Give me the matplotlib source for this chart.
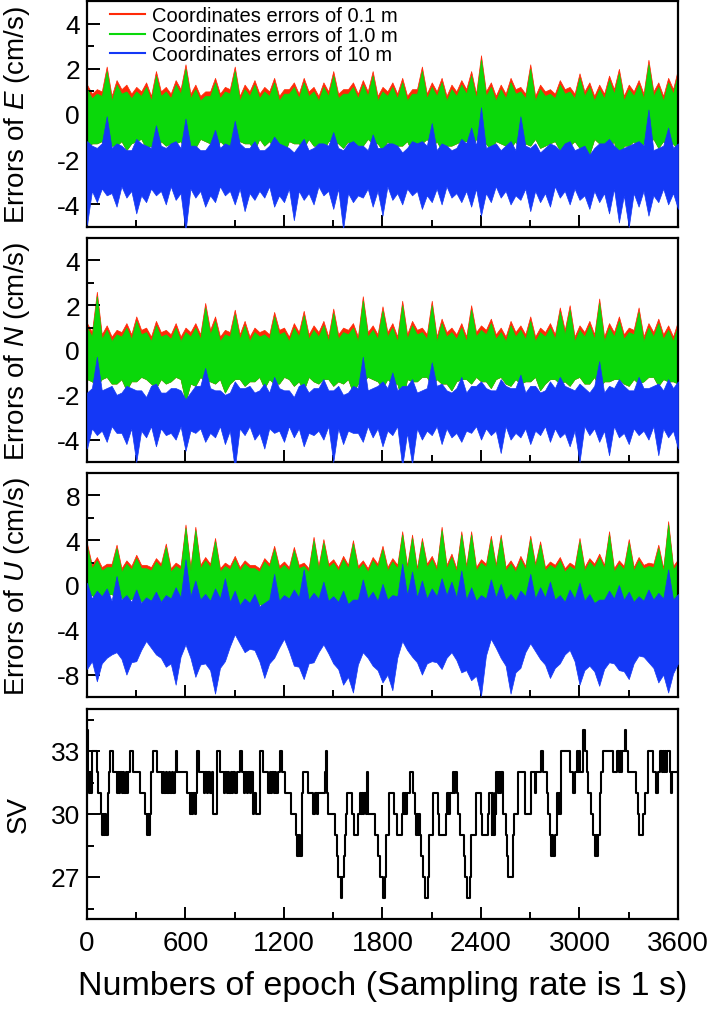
import numpy as np
import matplotlib
matplotlib.use('Agg')
import matplotlib.pyplot as plt
from matplotlib.ticker import MultipleLocator
from matplotlib.lines import Line2D

plt.rcParams['font.family'] = ['Liberation Sans', 'DejaVu Sans']
plt.rcParams['mathtext.fontset'] = 'custom'
plt.rcParams['mathtext.rm'] = 'Liberation Sans'
plt.rcParams['mathtext.it'] = 'Liberation Sans:italic'
plt.rcParams['axes.unicode_minus'] = False

# envelope readings of the noisy series, one value every 30 epochs
epochs = np.arange(0, 3601, 30)

# E component (cm/s)
e_red_up = [1.3, 0.9, 1.1, 1.0, 2.1, 0.8, 1.5, 1.1, 1.3, 0.9, 1.2, 1.0, 1.4, 0.8, 1.9, 1.0, 1.2, 0.9, 1.5, 1.1,
            2.2, 0.9, 1.3, 0.8, 1.0, 1.0, 1.6, 0.9, 1.2, 1.1, 2.1, 0.8, 1.3, 1.0, 1.5, 0.9, 1.2, 1.0, 1.6, 0.8,
            1.1, 1.1, 1.4, 0.9, 1.6, 1.0, 1.2, 0.8, 1.4, 1.0, 1.9, 0.9, 1.1, 1.1, 1.4, 0.9, 1.5, 1.0, 1.9, 0.8,
            1.2, 1.0, 1.4, 0.9, 1.6, 0.8, 1.1, 1.1, 2.1, 0.9, 1.4, 1.0, 1.6, 0.8, 1.3, 1.0, 1.5, 1.1, 1.9, 0.9,
            2.6, 1.0, 1.4, 0.8, 1.3, 0.9, 1.6, 1.1, 1.2, 0.9, 2.2, 0.8, 1.3, 1.0, 1.1, 0.9, 1.5, 1.1, 1.2, 0.9,
            1.8, 1.0, 1.4, 0.8, 1.3, 0.9, 1.7, 1.1, 2.0, 0.8, 1.3, 1.0, 1.5, 0.9, 2.4, 1.0, 1.4, 0.8, 1.6, 1.1,
            2.0]
e_green_up = [1.1, 0.7, 0.9, 0.8, 1.9, 0.6, 1.3, 0.9, 1.0, 0.7, 1.0, 0.8, 1.2, 0.6, 1.7, 0.8, 1.0, 0.7, 1.3, 0.9,
              2.0, 0.7, 1.1, 0.6, 0.8, 0.8, 1.4, 0.7, 1.0, 0.9, 1.9, 0.6, 1.1, 0.8, 1.3, 0.7, 1.0, 0.8, 1.4, 0.6,
              0.9, 0.9, 1.2, 0.7, 1.4, 0.8, 1.0, 0.6, 1.2, 0.8, 1.7, 0.7, 0.9, 0.9, 1.2, 0.7, 1.3, 0.8, 1.7, 0.6,
              1.0, 0.8, 1.2, 0.7, 1.4, 0.6, 0.9, 0.9, 1.9, 0.7, 1.2, 0.8, 1.4, 0.6, 1.1, 0.8, 1.3, 0.9, 1.7, 0.7,
              2.4, 0.8, 1.2, 0.6, 1.1, 0.7, 1.4, 0.9, 1.0, 0.7, 2.0, 0.6, 1.1, 0.8, 0.9, 0.7, 1.3, 0.9, 1.0, 0.7,
              1.6, 0.8, 1.2, 0.6, 1.1, 0.7, 1.5, 0.9, 1.8, 0.6, 1.1, 0.8, 1.3, 0.7, 2.2, 0.8, 1.2, 0.6, 1.4, 0.9,
              1.8]
e_green_lo = [-1.5, -1.3, -1.3, -1.2, -1.7, -1.4, -1.4, -1.2, -1.6, -1.3, -1.2, -1.1, -1.5, -1.4, -1.8, -1.2, -1.4, -1.3, -1.3, -1.2,
              -1.6, -1.4, -1.5, -1.1, -1.2, -1.3, -1.7, -1.2, -1.4, -1.4, -1.5, -1.2, -1.3, -1.3, -1.6, -1.1, -1.4, -1.2, -1.5, -1.4,
              -1.8, -1.2, -1.3, -1.3, -1.5, -1.1, -1.4, -1.4, -1.6, -1.2, -1.2, -1.3, -1.5, -1.2, -1.7, -1.4, -1.4, -1.1, -1.3, -1.3,
              -1.6, -1.2, -1.5, -1.4, -1.4, -1.2, -1.7, -1.3, -1.3, -1.1, -1.5, -1.2, -1.6, -1.4, -1.4, -1.3, -1.2, -1.2, -1.5, -1.1,
              -1.4, -1.3, -1.6, -1.2, -1.3, -1.4, -1.5, -1.2, -1.7, -1.3, -1.4, -1.1, -1.5, -1.4, -1.3, -1.2, -1.6, -1.3, -1.4, -1.2,
              -1.5, -1.4, -1.8, -1.1, -1.3, -1.3, -1.5, -1.2, -2.3, -1.4, -1.4, -1.2, -1.6, -1.3, -1.3, -1.1, -1.5, -1.2, -1.4, -1.3,
              -1.6]
e_blue_up = [-1.2, -1.4, -1.5, -1.3, -0.1, -1.5, -1.3, -1.4, -1.6, -1.6, -1.1, -1.3, -1.4, -1.5, -0.5, -1.4, -1.5, -1.3, -1.2, -1.5,
             -0.2, -1.4, -1.4, -1.6, -1.6, -1.3, -0.7, -1.5, -1.3, -1.4, -0.3, -1.3, -1.5, -1.5, -1.2, -1.6, -1.6, -1.4, -1.0, -1.3,
             -1.4, -1.5, -1.7, -1.4, -1.1, -1.6, -1.5, -1.3, -1.3, -1.4, -0.8, -1.5, -1.6, -1.3, -1.2, -1.4, -1.4, -1.6, -0.9, -1.5,
             -1.5, -1.3, -1.3, -1.4, -1.7, -1.5, -1.2, -1.3, -1.2, -1.4, -0.4, -1.6, -1.3, -1.4, -1.6, -1.5, -1.1, -1.3, -0.6, -1.4,
             0.3, -1.5, -1.4, -1.3, -1.6, -1.4, -1.2, -1.6, -0.1, -1.4, -1.5, -1.3, -1.7, -1.5, -1.3, -1.4, -1.6, -1.3, -1.2, -1.6,
             -1.5, -1.4, -1.8, -1.5, -1.3, -1.3, -1.1, -1.4, -1.6, -1.5, -1.4, -1.3, -1.2, -1.4, 0.2, -1.6, -1.5, -1.4, -0.6, -1.5,
             -1.3]
e_blue_lo = [-4.9, -3.4, -3.9, -3.3, -3.6, -3.5, -4.1, -3.2, -3.7, -3.4, -4.4, -3.6, -3.9, -3.3, -3.6, -3.4, -4.0, -3.2, -3.8, -3.5,
             -5.2, -3.3, -3.7, -3.4, -4.1, -3.6, -3.9, -3.2, -3.6, -3.4, -4.0, -3.3, -4.3, -3.5, -3.8, -3.4, -3.7, -3.2, -4.1, -3.6,
             -3.9, -3.3, -4.7, -3.4, -3.8, -3.5, -4.0, -3.2, -3.6, -3.4, -4.2, -3.3, -5.1, -3.5, -3.9, -3.6, -3.7, -3.3, -4.1, -3.4,
             -4.5, -3.2, -3.8, -3.5, -4.0, -3.3, -3.6, -3.4, -4.2, -3.6, -3.9, -3.3, -4.0, -3.2, -3.7, -3.5, -3.9, -3.4, -4.1, -3.3,
             -4.5, -3.5, -3.9, -3.2, -3.7, -3.4, -4.0, -3.6, -3.8, -3.3, -4.3, -3.4, -3.9, -3.5, -4.1, -3.2, -3.7, -3.4, -4.0, -3.3,
             -3.8, -3.6, -4.2, -3.4, -3.9, -3.5, -4.4, -3.3, -4.8, -3.6, -5.0, -3.5, -4.1, -3.4, -4.5, -3.6, -3.9, -3.3, -4.0, -3.5,
             -4.2]

# N component (cm/s)
n_red_up = [1.2, 0.8, 2.6, 0.7, 1.1, 0.6, 0.9, 0.8, 1.2, 0.7, 1.5, 0.9, 1.0, 0.6, 1.3, 0.8, 0.9, 0.7, 1.2, 0.6,
            1.0, 0.8, 1.2, 0.7, 2.1, 0.9, 1.5, 0.6, 0.9, 0.8, 1.8, 0.7, 1.3, 0.6, 1.0, 0.8, 0.9, 0.7, 1.7, 0.9,
            1.0, 0.6, 1.2, 0.8, 1.75, 0.7, 1.1, 0.8, 1.3, 0.6, 1.85, 0.7, 1.0, 0.9, 1.2, 0.6, 2.4, 0.8, 1.1, 0.7,
            1.95, 0.8, 1.2, 0.6, 2.2, 0.7, 1.3, 0.9, 1.0, 0.7, 2.2, 0.6, 1.4, 0.8, 1.0, 0.7, 1.2, 0.6, 2.0, 0.8,
            1.1, 0.9, 1.4, 0.7, 1.0, 0.6, 1.3, 0.8, 1.1, 0.7, 1.5, 0.6, 1.0, 0.8, 1.2, 0.7, 1.9, 0.9, 2.0, 0.6,
            1.1, 0.8, 1.3, 0.7, 2.3, 0.6, 1.2, 0.8, 1.5, 0.7, 1.0, 0.9, 1.9, 0.6, 1.2, 0.8, 1.4, 0.7, 1.1, 0.6,
            1.3]
n_green_up = [1.0, 0.6, 2.4, 0.5, 0.9, 0.4, 0.7, 0.6, 1.0, 0.5, 1.3, 0.7, 0.8, 0.4, 1.1, 0.6, 0.7, 0.5, 1.0, 0.4,
              0.8, 0.6, 1.0, 0.5, 1.9, 0.7, 1.3, 0.4, 0.7, 0.6, 1.6, 0.5, 1.1, 0.4, 0.8, 0.6, 0.7, 0.5, 1.5, 0.7,
              0.8, 0.4, 1.0, 0.6, 1.55, 0.5, 0.9, 0.6, 1.1, 0.4, 1.65, 0.5, 0.8, 0.7, 1.0, 0.4, 2.2, 0.6, 0.9, 0.5,
              1.75, 0.6, 1.0, 0.4, 2.0, 0.5, 1.1, 0.7, 0.8, 0.5, 2.0, 0.4, 1.2, 0.6, 0.8, 0.5, 1.0, 0.4, 1.8, 0.6,
              0.9, 0.7, 1.2, 0.5, 0.8, 0.4, 1.1, 0.6, 0.9, 0.5, 1.3, 0.4, 0.8, 0.6, 1.0, 0.5, 1.7, 0.7, 1.8, 0.4,
              0.9, 0.6, 1.1, 0.5, 2.1, 0.4, 1.0, 0.6, 1.3, 0.5, 0.8, 0.7, 1.7, 0.4, 1.0, 0.6, 1.2, 0.5, 0.9, 0.4,
              1.1]
n_green_lo = [-1.3, -1.4, -1.6, -1.3, -1.2, -1.5, -1.5, -1.3, -1.8, -1.4, -1.4, -1.2, -1.3, -1.5, -1.7, -1.3, -1.5, -1.4, -1.2, -1.3,
              -2.3, -1.5, -1.6, -1.2, -1.4, -1.4, -1.5, -1.3, -1.9, -1.5, -1.3, -1.3, -1.6, -1.4, -1.4, -1.2, -1.7, -1.3, -1.5, -1.5,
              -1.2, -1.3, -1.6, -1.4, -1.8, -1.2, -1.4, -1.5, -1.3, -1.3, -1.6, -1.4, -1.5, -1.3, -1.9, -1.5, -1.4, -1.2, -1.3, -1.4,
              -1.7, -1.3, -1.5, -1.5, -2.3, -1.3, -1.4, -1.4, -1.2, -1.2, -1.6, -1.3, -1.5, -1.5, -1.8, -1.4, -1.3, -1.3, -1.5, -1.2,
              -1.4, -1.4, -1.7, -1.3, -1.2, -1.5, -1.6, -1.3, -1.5, -1.4, -1.4, -1.2, -1.8, -1.5, -1.3, -1.3, -1.5, -1.4, -1.6, -1.3,
              -1.2, -1.5, -1.5, -1.2, -1.7, -1.4, -1.4, -1.3, -1.3, -1.5, -1.6, -1.3, -1.5, -1.4, -1.2, -1.2, -1.6, -1.3, -1.4, -1.4,
              -1.5]
n_blue_up = [-1.9, -1.7, -0.3, -1.8, -1.7, -1.6, -2.0, -1.9, -1.6, -1.7, -1.8, -1.8, -2.1, -1.6, -1.5, -1.9, -1.9, -1.7, -1.7, -1.8,
             -2.2, -1.9, -1.6, -1.6, -0.8, -1.7, -1.8, -1.8, -2.0, -1.9, -1.4, -1.7, -1.7, -1.6, -1.9, -1.8, -1.5, -1.9, -1.2, -1.7,
             -1.8, -1.8, -2.1, -1.6, -1.5, -1.9, -1.7, -1.7, -1.3, -1.8, -1.8, -1.6, -2.0, -1.9, -1.6, -1.7, -0.3, -1.8, -1.7, -1.6,
             -1.4, -1.7, -1.0, -1.8, -1.6, -1.6, -1.3, -1.9, -1.8, -1.7, -0.55, -1.6, -1.5, -1.8, -1.9, -1.7, -1.2, -1.9, -1.6, -1.6,
             -1.4, -1.7, -1.8, -1.8, -1.3, -1.6, -1.7, -1.7, -1.1, -1.9, -1.6, -1.6, -1.9, -1.8, -1.4, -1.7, -1.2, -1.6, -1.7, -1.8,
             -1.5, -1.7, -1.9, -1.6, -0.5, -1.9, -1.6, -1.7, -1.3, -1.6, -1.8, -1.8, -1.2, -1.7, -1.7, -1.6, -1.5, -1.8, -1.3, -1.7,
             -1.4]
n_blue_lo = [-4.4, -3.5, -3.8, -3.6, -4.1, -3.4, -3.7, -3.7, -4.2, -3.5, -5.0, -3.6, -3.9, -3.4, -4.3, -3.5, -3.8, -3.7, -4.0, -3.4,
             -4.5, -3.6, -3.7, -3.5, -4.1, -3.7, -3.9, -3.4, -4.2, -3.6, -5.3, -3.5, -3.8, -3.4, -4.0, -3.7, -4.4, -3.5, -3.7, -3.6,
             -4.1, -3.4, -3.9, -3.5, -4.3, -3.7, -3.8, -3.6, -4.0, -3.4, -5.0, -3.5, -4.2, -3.6, -3.7, -3.7, -4.1, -3.4, -3.9, -3.5,
             -4.3, -3.6, -3.8, -3.4, -5.2, -3.7, -5.1, -3.5, -4.0, -3.6, -3.8, -3.4, -4.2, -3.5, -3.9, -3.7, -4.1, -3.6, -3.7, -3.4,
             -4.0, -3.5, -3.8, -3.6, -4.6, -3.4, -4.0, -3.7, -3.9, -3.5, -4.2, -3.6, -3.8, -3.4, -4.1, -3.5, -3.9, -3.7, -4.3, -3.6,
             -5.0, -3.4, -3.8, -3.5, -4.1, -3.6, -4.7, -3.4, -3.9, -3.7, -4.2, -3.5, -3.8, -3.6, -4.0, -3.4, -4.7, -3.5, -3.9, -3.6,
             -4.4]

# U component (cm/s)
u_red_up = [3.7, 1.8, 2.5, 1.6, 1.9, 1.9, 3.6, 1.5, 2.2, 1.7, 2.7, 1.8, 1.8, 1.6, 2.4, 1.9, 3.7, 1.5, 2.0, 1.7,
            5.4, 1.6, 5.2, 1.8, 2.5, 1.9, 4.2, 1.5, 2.0, 1.7, 2.6, 1.6, 2.2, 1.8, 1.8, 1.5, 2.4, 1.9, 3.5, 1.7,
            2.1, 1.6, 3.4, 1.8, 2.0, 1.5, 4.3, 1.7, 4.1, 1.9, 2.3, 1.6, 2.6, 1.8, 4.0, 1.7, 2.2, 1.5, 2.5, 1.9,
            3.5, 1.6, 2.4, 1.8, 4.8, 1.7, 4.5, 1.5, 4.2, 1.9, 2.6, 1.6, 5.2, 1.8, 2.8, 1.5, 4.8, 1.7, 4.8, 1.6,
            2.3, 1.9, 4.4, 1.8, 4.5, 1.6, 2.2, 1.5, 2.6, 1.7, 4.4, 1.9, 3.9, 1.6, 2.1, 1.8, 2.5, 1.5, 2.0, 1.7,
            4.2, 1.6, 2.4, 1.9, 2.8, 1.8, 4.8, 1.5, 2.2, 1.7, 4.1, 1.6, 2.5, 1.8, 2.0, 1.9, 3.6, 1.5, 5.7, 1.7,
            2.3]
u_green_up = [3.4, 1.5, 2.2, 1.3, 1.6, 1.6, 3.3, 1.2, 1.9, 1.4, 2.4, 1.5, 1.5, 1.3, 2.1, 1.6, 3.4, 1.2, 1.7, 1.4,
              5.1, 1.3, 4.9, 1.5, 2.2, 1.6, 3.9, 1.2, 1.7, 1.4, 2.3, 1.3, 1.9, 1.5, 1.5, 1.2, 2.1, 1.6, 3.2, 1.4,
              1.8, 1.3, 3.1, 1.5, 1.7, 1.2, 4.0, 1.4, 3.8, 1.6, 2.0, 1.3, 2.3, 1.5, 3.7, 1.4, 1.9, 1.2, 2.2, 1.6,
              3.2, 1.3, 2.1, 1.5, 4.5, 1.4, 4.2, 1.2, 3.9, 1.6, 2.3, 1.3, 4.9, 1.5, 2.5, 1.2, 4.5, 1.4, 4.5, 1.3,
              2.0, 1.6, 4.1, 1.5, 4.2, 1.3, 1.9, 1.2, 2.3, 1.4, 4.1, 1.6, 3.6, 1.3, 1.8, 1.5, 2.2, 1.2, 1.7, 1.4,
              3.9, 1.3, 2.1, 1.6, 2.5, 1.5, 4.5, 1.2, 1.9, 1.4, 3.8, 1.3, 2.2, 1.5, 1.7, 1.6, 3.3, 1.2, 5.4, 1.4,
              2.0]
u_green_lo = [-1.0, -0.9, -1.3, -1.0, -0.9, -0.8, -1.2, -1.1, -1.6, -1.2, -1.3, -1.4, -1.8, -1.5, -2.0, -1.4, -1.5, -1.6, -1.9, -1.7,
              -2.2, -1.5, -1.6, -1.8, -2.3, -1.6, -1.7, -1.7, -2.0, -1.5, -1.8, -1.9, -2.2, -2.0, -2.4, -1.7, -1.9, -1.8, -2.1, -1.5,
              -1.6, -2.1, -2.8, -2.2, -2.5, -1.8, -2.0, -1.5, -1.7, -1.8, -2.2, -2.4, -3.1, -2.1, -2.4, -1.7, -1.9, -1.4, -1.6, -1.8,
              -2.3, -2.3, -3.0, -1.8, -2.0, -1.4, -1.5, -1.5, -1.9, -2.6, -3.6, -1.9, -2.2, -1.6, -1.8, -1.3, -1.4, -1.6, -2.0, -1.5,
              -1.7, -1.6, -1.9, -1.8, -2.1, -2.0, -2.4, -2.3, -3.0, -1.6, -1.8, -1.8, -2.2, -2.2, -2.6, -2.4, -2.9, -1.8, -2.0, -1.6,
              -1.7, -1.4, -1.5, -1.7, -2.3, -1.8, -1.9, -1.5, -1.6, -1.7, -2.1, -2.0, -2.4, -1.9, -2.2, -2.5, -3.2, -2.2, -2.5, -1.8,
              -2.0]
u_blue_up = [0.2, -1.2, -0.5, -1.0, -0.3, -1.4, 0.8, -1.3, -0.9, -1.5, -0.4, -1.6, -1.1, -1.4, -0.6, -1.5, -0.9, -1.2, -0.2, -1.1,
             2.3, -1.0, 0.4, -1.3, -0.8, -1.4, -0.3, -1.2, 0.6, -1.5, -0.5, -1.8, -1.2, -1.6, -0.8, -1.9, -1.6, -1.3, 1.0, -1.4,
             -0.9, -1.2, -0.4, -1.1, 1.4, -1.3, -0.7, -1.2, 0.3, -1.4, -1.0, -1.5, -0.5, -1.7, -1.3, -1.3, 0.5, -1.2, -0.6, -1.4,
             0.1, -1.3, -0.9, -1.0, 1.9, -0.9, 1.2, -1.1, 0.4, -1.2, -0.3, -1.0, 0.6, -0.9, 0.3, -1.1, 1.3, -1.3, -0.2, -1.4,
             -0.9, -1.2, 0.5, -1.1, 0.1, -1.3, -0.8, -1.4, -0.5, -1.0, 1.0, -1.2, -0.2, -1.1, 0.3, -1.3, -0.9, -1.5, -0.4, -1.2,
             0.2, -1.4, -0.8, -1.6, -1.3, -1.3, -0.5, -1.2, 0.0, -1.3, -0.6, -1.5, -1.0, -1.4, -0.4, -1.3, -0.7, -1.2, 1.4, -1.3,
             -0.8]
u_blue_lo = [-7.5, -6.8, -8.6, -7.0, -6.5, -6.2, -6.0, -6.6, -8.0, -6.9, -6.8, -5.8, -5.0, -5.6, -6.2, -6.5, -7.3, -7.0, -8.9, -6.4,
             -5.3, -6.5, -8.2, -7.1, -7.0, -7.6, -9.7, -7.4, -6.8, -5.5, -4.4, -5.2, -6.0, -5.7, -5.8, -6.8, -8.3, -7.0, -6.5, -5.6,
             -4.8, -5.9, -7.2, -7.3, -8.4, -7.0, -6.9, -6.0, -5.3, -6.1, -7.0, -7.5, -8.9, -8.2, -9.6, -7.1, -6.0, -6.5, -7.2, -7.6,
             -8.7, -8.0, -9.4, -6.5, -5.0, -5.8, -6.4, -6.9, -8.0, -7.0, -6.8, -6.9, -7.5, -6.5, -6.0, -6.7, -7.8, -7.6, -8.5, -8.1,
             -9.9, -6.3, -4.8, -5.6, -6.5, -7.2, -9.7, -7.8, -7.4, -6.0, -5.2, -5.9, -6.6, -7.1, -8.3, -7.4, -7.0, -6.2, -5.8, -6.8,
             -8.9, -7.6, -7.2, -7.7, -9.0, -7.5, -6.9, -7.0, -7.6, -7.7, -8.4, -7.0, -6.3, -6.4, -6.9, -7.4, -8.7, -8.0, -9.6, -7.9,
             -7.0]

# number of satellites: epoch where the count changes, and the new count
sv_epoch = [0, 4, 10, 16, 22, 29, 59, 69, 83, 92, 98, 104, 110, 116, 126, 130, 134, 140,
            160, 181, 188, 196, 204, 212, 220, 228, 236, 244, 252, 262, 278, 323, 353,
            363, 370, 376, 382, 388, 392, 400, 428, 455, 463, 472, 480, 490, 498, 508,
            516, 526, 536, 540, 550, 607, 627, 634, 640, 648, 655, 662, 668, 684, 712,
            720, 730, 740, 750, 760, 769, 790, 810, 835, 843, 851, 860, 868, 876, 884,
            892, 900, 911, 932, 946, 956, 964, 974, 982, 992, 1000, 1013, 1020, 1028,
            1054, 1074, 1105, 1113, 1121, 1129, 1137, 1145, 1153, 1161, 1175, 1190,
            1206, 1240, 1273, 1277, 1283, 1288, 1294, 1299, 1307, 1317, 1348, 1378,
            1388, 1403, 1409, 1449, 1455, 1462, 1470, 1510, 1520, 1531, 1545, 1555,
            1565, 1571, 1578, 1581, 1612, 1625, 1652, 1662, 1668, 1675, 1682, 1690,
            1698, 1705, 1710, 1754, 1774, 1784, 1805, 1816, 1820, 1841, 1869, 1889,
            1916, 1926, 1932, 1938, 1944, 1950, 1967, 1983, 1997, 2004, 2010, 2016,
            2022, 2028, 2032, 2048, 2058, 2078, 2084, 2105, 2139, 2145, 2186, 2190,
            2196, 2202, 2208, 2214, 2231, 2238, 2244, 2255, 2261, 2271, 2295, 2302,
            2312, 2332, 2342, 2369, 2403, 2409, 2444, 2450, 2464, 2470, 2476, 2484,
            2490, 2494, 2502, 2508, 2514, 2520, 2535, 2551, 2559, 2565, 2592, 2596,
            2600, 2626, 2667, 2707, 2728, 2733, 2764, 2779, 2799, 2809, 2819, 2829,
            2835, 2840, 2850, 2860, 2868, 2876, 2884, 2890, 2941, 2961, 2971, 2982,
            2988, 2994, 3002, 3022, 3024, 3032, 3043, 3053, 3073, 3083, 3093, 3100,
            3106, 3114, 3124, 3134, 3144, 3205, 3229, 3240, 3246, 3252, 3258, 3276,
            3286, 3296, 3347, 3357, 3362, 3388, 3398, 3418, 3449, 3469, 3479, 3489,
            3500, 3506, 3512, 3518, 3524, 3530, 3550, 3560, 3565, 3600]
sv_value = [34, 32, 31, 32, 31, 33, 32, 31, 30, 29, 30, 29, 30, 29, 30, 31, 32, 33,
            32, 31, 32, 31, 32, 31, 32, 31, 32, 31, 32, 33, 32, 31, 30,
            29, 30, 29, 30, 31, 32, 33, 32, 31, 32, 31, 32, 31, 32, 31,
            32, 31, 32, 33, 32, 31, 30, 31, 30, 31, 30, 31, 33, 32, 31,
            32, 31, 32, 31, 32, 30, 33, 32, 31, 32, 31, 32, 31, 32, 31,
            32, 31, 32, 33, 32, 31, 32, 31, 32, 31, 32, 30, 31, 30,
            33, 32, 31, 32, 31, 32, 31, 32, 31, 32, 33, 32,
            31, 30, 29, 28, 29, 28, 29, 28, 31, 32, 31, 30,
            31, 30, 31, 32, 33, 31, 30, 29, 28, 27, 26, 27,
            28, 29, 30, 31, 30, 29, 30, 31, 30, 31, 30, 31,
            30, 32, 30, 29, 28, 27, 26, 27, 29, 31, 30, 29,
            30, 31, 30, 31, 30, 31, 32, 31, 30, 29, 30, 29,
            30, 29, 28, 27, 26, 27, 29, 31, 30, 29, 30, 31,
            30, 31, 30, 31, 32, 31, 32, 31, 30, 29, 28, 27,
            26, 27, 29, 31, 30, 29, 30, 31, 29, 31, 29, 31,
            30, 32, 31, 32, 31, 32, 30, 29, 28, 27, 28, 29,
            30, 32, 30, 32, 31, 32, 33, 32, 31, 30, 29, 28,
            29, 28, 29, 31, 30, 31, 30, 33, 32, 31, 32, 33,
            32, 33, 32, 33, 34, 33, 32, 31, 30, 29, 28, 29,
            28, 29, 31, 32, 33, 32, 33, 32, 33, 32, 33, 34,
            33, 32, 31, 30, 29, 30, 31, 33, 32, 31, 32, 33,
            32, 33, 32, 33, 32, 33, 32, 31, 32, 32]

labels = ['Coordinates errors of 0.1 m', 'Coordinates errors of 1.0 m',
          'Coordinates errors of 10 m']
RED = '#FF2A08'
GREEN = '#0AD80A'
BLUE = '#1438F6'


def style_axes(ax, ylim, major, minor, show_x):
    ax.set_xlim(0, 3600)
    ax.set_ylim(*ylim)
    ax.xaxis.set_major_locator(MultipleLocator(600))
    ax.xaxis.set_minor_locator(MultipleLocator(300))
    ax.yaxis.set_major_locator(MultipleLocator(major))
    ax.yaxis.set_minor_locator(MultipleLocator(minor))
    ax.tick_params(which='both', direction='in', top=False, right=False,
                   width=1.4, labelsize=19, pad=5)
    ax.tick_params(which='major', length=9)
    ax.tick_params(which='minor', length=5)
    ax.tick_params(axis='x', labelbottom=show_x, pad=8, labelsize=20)
    for s in ax.spines.values():
        s.set_linewidth(1.6)
    ax.yaxis.set_label_coords(-0.093, 0.5)


def draw_errors(ax, red_up, green_up, green_lo, blue_up, blue_lo):
    ax.fill_between(epochs, green_lo, red_up, color=RED, lw=0.5, zorder=1)
    ax.fill_between(epochs, green_lo, green_up, color=GREEN, lw=0.5, zorder=2)
    ax.fill_between(epochs, blue_lo, blue_up, color=BLUE, lw=0.5, zorder=3)


fig = plt.figure(figsize=(7.11, 10.12), dpi=100)
left, width = 87 / 711, 591 / 711
ax1 = fig.add_axes([left, 1 - 228 / 1012, width, 226 / 1012])
ax2 = fig.add_axes([left, 1 - 463 / 1012, width, 224 / 1012])
ax3 = fig.add_axes([left, 1 - 698 / 1012, width, 224 / 1012])
ax4 = fig.add_axes([left, 1 - 920 / 1012, width, 210 / 1012])

draw_errors(ax1, e_red_up, e_green_up, e_green_lo, e_blue_up, e_blue_lo)
draw_errors(ax2, n_red_up, n_green_up, n_green_lo, n_blue_up, n_blue_lo)
draw_errors(ax3, u_red_up, u_green_up, u_green_lo, u_blue_up, u_blue_lo)
ax4.plot(sv_epoch, sv_value, color='black', lw=1.5, drawstyle='steps-post')

style_axes(ax1, (-5, 5), 2, 1, False)
style_axes(ax2, (-5, 5), 2, 1, False)
style_axes(ax3, (-10, 10), 4, 2, False)
style_axes(ax4, (25, 35), 3, 1.5, True)

ax1.set_ylabel('Errors of $\\mathit{E}$ (cm/s)', fontsize=20)
ax2.set_ylabel('Errors of $\\mathit{N}$ (cm/s)', fontsize=20)
ax3.set_ylabel('Errors of $\\mathit{U}$ (cm/s)', fontsize=20)
ax4.set_ylabel('SV', fontsize=20)
ax4.set_xlabel('Numbers of epoch (Sampling rate is 1 s)', fontsize=24.5, labelpad=10)

handles = [Line2D([], [], color=c, lw=1.5) for c in (RED, GREEN, BLUE)]
ax1.legend(handles, labels, loc='upper left', bbox_to_anchor=(0.03, 1.0),
           frameon=False, fontsize=14.5, handlelength=1.75, handletextpad=0.35,
           labelspacing=0.03, borderaxespad=0.1, borderpad=0.15)

fig.savefig('out.png', dpi=100)
